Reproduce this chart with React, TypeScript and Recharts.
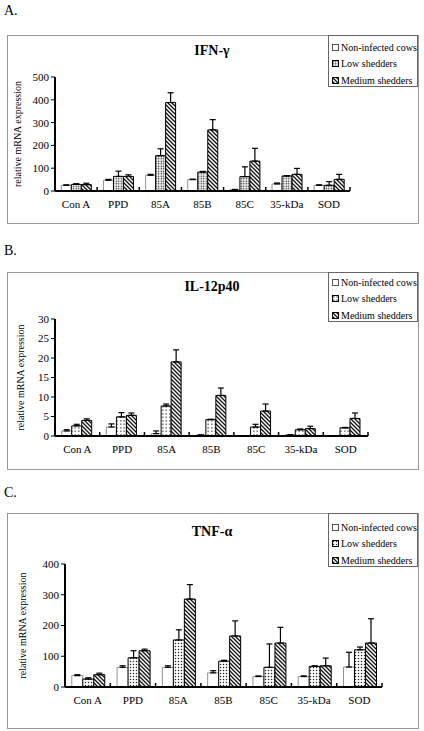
import React from 'react';
import { BarChart, Bar, XAxis, YAxis, ErrorBar } from 'recharts';

const categories = ['Con A', 'PPD', '85A', '85B', '85C', '35-kDa', 'SOD'];
const seriesNames = ['Non-infected cows', 'Low shedders', 'Medium shedders'];

// IFN-γ
const ifnNon = [25, 47, 69, 50, 6, 31, 25];
const ifnNonErr = [2, 4, 4, 2, 1, 4, 2];
const ifnLow = [29, 64, 155, 83, 63, 66, 25];
const ifnLowErr = [3, 23, 30, 3, 43, 1, 16];
const ifnMed = [28, 64, 388, 268, 131, 73, 51];
const ifnMedErr = [6, 7, 43, 45, 56, 26, 22];
const ifnTicks = [0, 100, 200, 300, 400, 500];

// IL-12p40
const ilNon = [1.3, 2.3, 0.6, 0.25, 0.1, 0.3, 0.05];
const ilNonErr = [0.3, 0.8, 0.7, 0, 0, 0, 0];
const ilLow = [2.6, 4.9, 7.7, 4.2, 2.3, 1.6, 2.1];
const ilLowErr = [0.4, 1.1, 0.5, 0.1, 0.7, 0.2, 0.1];
const ilMed = [4.0, 5.3, 19.0, 10.4, 6.4, 1.9, 4.5];
const ilMedErr = [0.4, 0.6, 3.1, 1.9, 1.8, 0.6, 1.4];
const ilTicks = [0, 5, 10, 15, 20, 25, 30];

// TNF-α
const tnfNon = [37, 64, 64, 46, 34, 34, 65];
const tnfNonErr = [3, 5, 5, 7, 2, 2, 48];
const tnfLow = [26, 95, 153, 84, 64, 67, 121];
const tnfLowErr = [4, 23, 33, 3, 76, 2, 9];
const tnfMed = [40, 118, 286, 166, 143, 69, 143];
const tnfMedErr = [5, 5, 47, 49, 51, 25, 79];
const tnfTicks = [0, 100, 200, 300, 400];

const serif = '"Liberation Serif", "Times New Roman", serif';

function buildRows(non: number[], nonErr: number[], low: number[], lowErr: number[], med: number[], medErr: number[]) {
  return categories.map((name, i) => ({
    name,
    non: non[i],
    nonErr: [0, nonErr[i]],
    low: low[i],
    lowErr: [0, lowErr[i]],
    med: med[i],
    medErr: [0, medErr[i]],
  }));
}

interface PanelProps {
  id: string;
  letter: string;
  letterY: number;
  title: string;
  titleY: number;
  rows: any[];
  ticks: number[];
  frameTop: number;
  frameBottom: number;
  plotTop: number;
  plotBottom: number;
  plotLeft: number;
  plotRight: number;
  labelX: number;
  legendHeight: number;
  legendPad: number;
  dotGap: number;
}

function Panel(p: PanelProps) {
  const chartH = p.frameBottom - p.frameTop;
  const band = (p.plotRight - p.plotLeft) / categories.length;
  const yAxisW = 45;
  const marginLeft = p.plotLeft - yAxisW;
  const xAxisH = 25;

  const XTick = (props: any) => {
    const { x, y, payload, index } = props;
    return (
      <g>
        {index > 0 && <line x1={x - band / 2} x2={x - band / 2} y1={y - 4} y2={y} stroke="#000" strokeWidth={1.5} />}
        {index === categories.length - 1 && (
          <line x1={x + band / 2} x2={x + band / 2} y1={y - 4} y2={y} stroke="#000" strokeWidth={1.5} />
        )}
        <text x={x} y={y + 17} textAnchor="middle" fontSize={11} fontFamily={serif} fill="#000">
          {payload.value}
        </text>
      </g>
    );
  };

  const fills = ['#fff', `url(#dots-${p.id})`, `url(#hatch-${p.id})`];
  const strokes = ['#777', '#000', '#000'];

  return (
    <>
      <div style={{ position: 'absolute', left: 4, top: p.letterY - 12, fontSize: 14, fontFamily: serif }}>{p.letter}</div>
      <div
        style={{
          position: 'absolute',
          left: 7,
          top: p.frameTop,
          width: 410,
          height: chartH - 1,
          border: '1px solid #999',
        }}
      />
      <div
        style={{
          position: 'absolute',
          left: 0,
          width: 424,
          top: p.titleY - 9,
          textAlign: 'center',
          fontFamily: serif,
          fontWeight: 'bold',
          fontSize: 14,
        }}
      >
        {p.title}
      </div>
      <div style={{ position: 'absolute', left: 0, top: p.frameTop }}>
        <BarChart
          width={424}
          height={chartH}
          data={p.rows}
          barCategoryGap="15%"
          barGap={0}
          margin={{ top: p.plotTop - p.frameTop, right: 424 - p.plotRight, left: marginLeft, bottom: chartH - (p.plotBottom - p.frameTop) - xAxisH }}
        >
          <defs>
            <pattern id={`dots-${p.id}`} width={p.dotGap} height={p.dotGap} patternUnits="userSpaceOnUse">
              <rect width={p.dotGap} height={p.dotGap} fill="#fff" />
              <circle cx={p.dotGap / 2} cy={p.dotGap / 2} r={0.75} fill="#222" />
            </pattern>
            <pattern id={`hatch-${p.id}`} width={4} height={4} patternUnits="userSpaceOnUse">
              <rect width={4} height={4} fill="#fff" />
              <path d="M0,0 L4,4 M-1,3 L1,5 M3,-1 L5,1" stroke="#111" strokeWidth={1.3} />
            </pattern>
          </defs>
          <XAxis
            dataKey="name"
            height={xAxisH}
            interval={0}
            tickLine={false}
            tickSize={0}
            tickMargin={0}
            axisLine={{ stroke: '#000', strokeWidth: 2 }}
            tick={XTick}
          />
          <YAxis
            width={yAxisW}
            domain={[p.ticks[0], p.ticks[p.ticks.length - 1]]}
            ticks={p.ticks}
            interval={0}
            tickSize={4}
            tickMargin={2}
            axisLine={{ stroke: '#000', strokeWidth: 2 }}
            tickLine={{ stroke: '#000' }}
            tick={{ fill: '#000', fontSize: 11, fontFamily: serif }}
            label={{
              value: 'relative mRNA expression',
              angle: -90,
              position: 'insideLeft',
              offset: p.labelX - marginLeft,
              style: { textAnchor: 'middle', fontSize: 10, fontFamily: serif, fill: '#000' },
            }}
          />
          {['non', 'low', 'med'].map((k, i) => (
            <Bar
              key={k}
              dataKey={k}
              name={seriesNames[i]}
              fill={fills[i]}
              stroke={strokes[i]}
              strokeWidth={i === 0 ? 0.8 : 1}
              isAnimationActive={false}
            >
              <ErrorBar dataKey={`${k}Err`} width={3} stroke="#000" strokeWidth={1.2} direction="y" />
            </Bar>
          ))}
        </BarChart>
      </div>
      <div
        style={{
          position: 'absolute',
          left: 328,
          top: p.frameTop,
          width: 90,
          height: p.legendHeight,
          border: '1px solid #666',
          background: '#fff',
          boxSizing: 'border-box',
          paddingTop: p.legendPad,
          fontFamily: serif,
          fontSize: 10,
        }}
      >
        {seriesNames.map((n, i) => (
          <div key={n} style={{ height: 16.5, display: 'flex', alignItems: 'center', whiteSpace: 'nowrap' }}>
            <svg width={7} height={7} style={{ marginLeft: 3, marginRight: 2, flex: 'none' }}>
              <rect x={0.5} y={0.5} width={6} height={6} fill={fills[i]} stroke={i === 0 ? '#555' : '#000'} strokeWidth={1} />
            </svg>
            <span>{n}</span>
          </div>
        ))}
      </div>
    </>
  );
}

export default function App() {
  return (
    <div style={{ position: 'absolute', left: 0, top: 0, width: 424, height: 731, background: '#fff', overflow: 'hidden' }}>
      <Panel
        id="a"
        letter="A."
        letterY={15}
        title="IFN-γ"
        titleY={52}
        rows={buildRows(ifnNon, ifnNonErr, ifnLow, ifnLowErr, ifnMed, ifnMedErr)}
        ticks={ifnTicks}
        frameTop={35}
        frameBottom={223}
        plotTop={77}
        plotBottom={191}
        plotLeft={55}
        plotRight={350}
        labelX={17}
        legendHeight={52}
        legendPad={3}
        dotGap={2.5}
      />
      <Panel
        id="b"
        letter="B."
        letterY={255}
        title="IL-12p40"
        titleY={288}
        rows={buildRows(ilNon, ilNonErr, ilLow, ilLowErr, ilMed, ilMedErr)}
        ticks={ilTicks}
        frameTop={272}
        frameBottom={469}
        plotTop={319}
        plotBottom={436}
        plotLeft={55}
        plotRight={368}
        labelX={20}
        legendHeight={50}
        legendPad={1}
        dotGap={3.5}
      />
      <Panel
        id="c"
        letter="C."
        letterY={497}
        title="TNF-α"
        titleY={533}
        rows={buildRows(tnfNon, tnfNonErr, tnfLow, tnfLowErr, tnfMed, tnfMedErr)}
        ticks={tnfTicks}
        frameTop={513}
        frameBottom={728}
        plotTop={564}
        plotBottom={687}
        plotLeft={65}
        plotRight={382}
        labelX={22}
        legendHeight={54}
        legendPad={5}
        dotGap={3}
      />
    </div>
  );
}
